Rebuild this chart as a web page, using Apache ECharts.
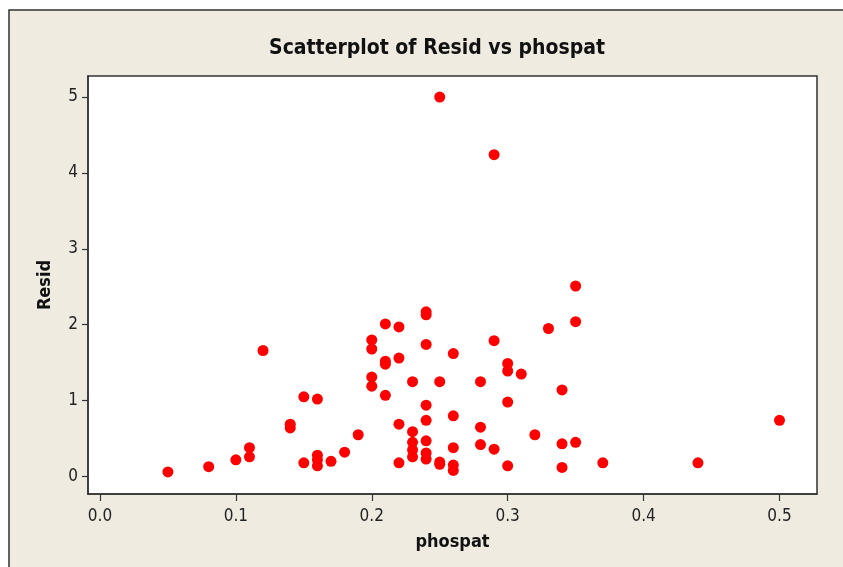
<!DOCTYPE html>
<html>
<head>
<meta charset="utf-8">
<script src="https://cdn.jsdelivr.net/npm/echarts@6/dist/echarts.min.js"></script>
<style>
html,body{margin:0;padding:0;background:#ffffff;}
#chart{width:843px;height:567px;}
</style>
</head>
<body>
<div id="chart"></div>
<script>
const phospat = [0.05,0.08,0.10,0.11,0.11,0.12,0.14,0.14,0.15,0.15,0.16,0.16,0.16,0.16,0.17,0.18,0.19,
  0.20,0.20,0.20,0.20,0.21,0.21,0.21,0.21,0.22,0.22,0.22,0.22,0.23,0.23,0.23,0.23,0.23,
  0.24,0.24,0.24,0.24,0.24,0.24,0.24,0.24,0.25,0.25,0.25,0.25,0.26,0.26,0.26,0.26,0.26,
  0.28,0.28,0.28,0.29,0.29,0.29,0.30,0.30,0.30,0.30,0.31,0.32,0.33,0.34,0.34,0.34,
  0.35,0.35,0.35,0.37,0.44,0.50];
const resid = [0.06,0.13,0.22,0.38,0.26,1.66,0.69,0.64,1.05,0.18,1.02,0.28,0.22,0.14,0.20,0.32,0.55,
  1.80,1.68,1.31,1.19,2.01,1.52,1.48,1.07,1.97,1.56,0.69,0.18,1.25,0.59,0.45,0.35,0.26,
  2.17,2.13,1.74,0.94,0.74,0.47,0.31,0.23,5.00,1.25,0.19,0.16,1.62,0.80,0.38,0.15,0.08,
  1.25,0.65,0.42,4.24,1.79,0.36,1.49,1.39,0.98,0.14,1.35,0.55,1.95,1.14,0.43,0.12,
  2.51,2.04,0.45,0.18,0.18,0.74];
const xTicks = [0, 0.1, 0.2, 0.3, 0.4, 0.5];
const yTicks = [0, 1, 2, 3, 4, 5];

const points = phospat.map((p, i) => [p, resid[i]]);
const tickFont = '"DejaVu Sans Condensed", "DejaVu Sans", sans-serif';

const chart = echarts.init(document.getElementById('chart'), null, {renderer: 'canvas'});
chart.setOption({
  backgroundColor: '#ffffff',
  animation: false,
  graphic: [{
    type: 'rect', z: -10, silent: true,
    shape: {x: 9, y: 10, width: 900, height: 600},
    style: {fill: '#efebe1', stroke: '#333333', lineWidth: 1.5}
  }],
  title: {
    text: 'Scatterplot of Resid vs phospat',
    left: 432, top: 33, textAlign: 'center',
    textStyle: {fontFamily: tickFont, fontWeight: 'bold', fontSize: 21, color: '#111'}
  },
  grid: {
    left: 88, top: 76, width: 729, height: 418,
    show: true, backgroundColor: '#ffffff', borderColor: '#333', borderWidth: 1.5
  },
  xAxis: {
    type: 'value', min: -0.0088, max: 0.5276,
    name: 'phospat', nameLocation: 'middle', nameGap: 39,
    nameTextStyle: {fontFamily: tickFont, fontWeight: 'bold', fontSize: 18, color: '#111'},
    axisLine: {show: true, onZero: false, lineStyle: {color: '#333', width: 1.5}},
    axisTick: {show: true, length: 7, customValues: xTicks, lineStyle: {color: '#333', width: 1.2}},
    axisLabel: {customValues: xTicks, margin: 14, fontFamily: tickFont, fontSize: 17, color: '#222',
      formatter: v => v.toFixed(1)},
    splitLine: {show: false}
  },
  yAxis: {
    type: 'value', min: -0.2306, max: 5.277,
    name: 'Resid', nameLocation: 'middle', nameGap: 34,
    nameTextStyle: {fontFamily: tickFont, fontWeight: 'bold', fontSize: 18, color: '#111'},
    axisLine: {show: true, onZero: false, lineStyle: {color: '#333', width: 1.5}},
    axisTick: {show: true, length: 6, customValues: yTicks, lineStyle: {color: '#333', width: 1.2}},
    axisLabel: {customValues: yTicks, margin: 10, fontFamily: tickFont, fontSize: 17, color: '#222'},
    splitLine: {show: false}
  },
  series: [{
    type: 'scatter',
    data: points,
    symbol: 'circle',
    symbolSize: 11,
    itemStyle: {color: '#ff0000', opacity: 1}
  }]
});
</script>
</body>
</html>
